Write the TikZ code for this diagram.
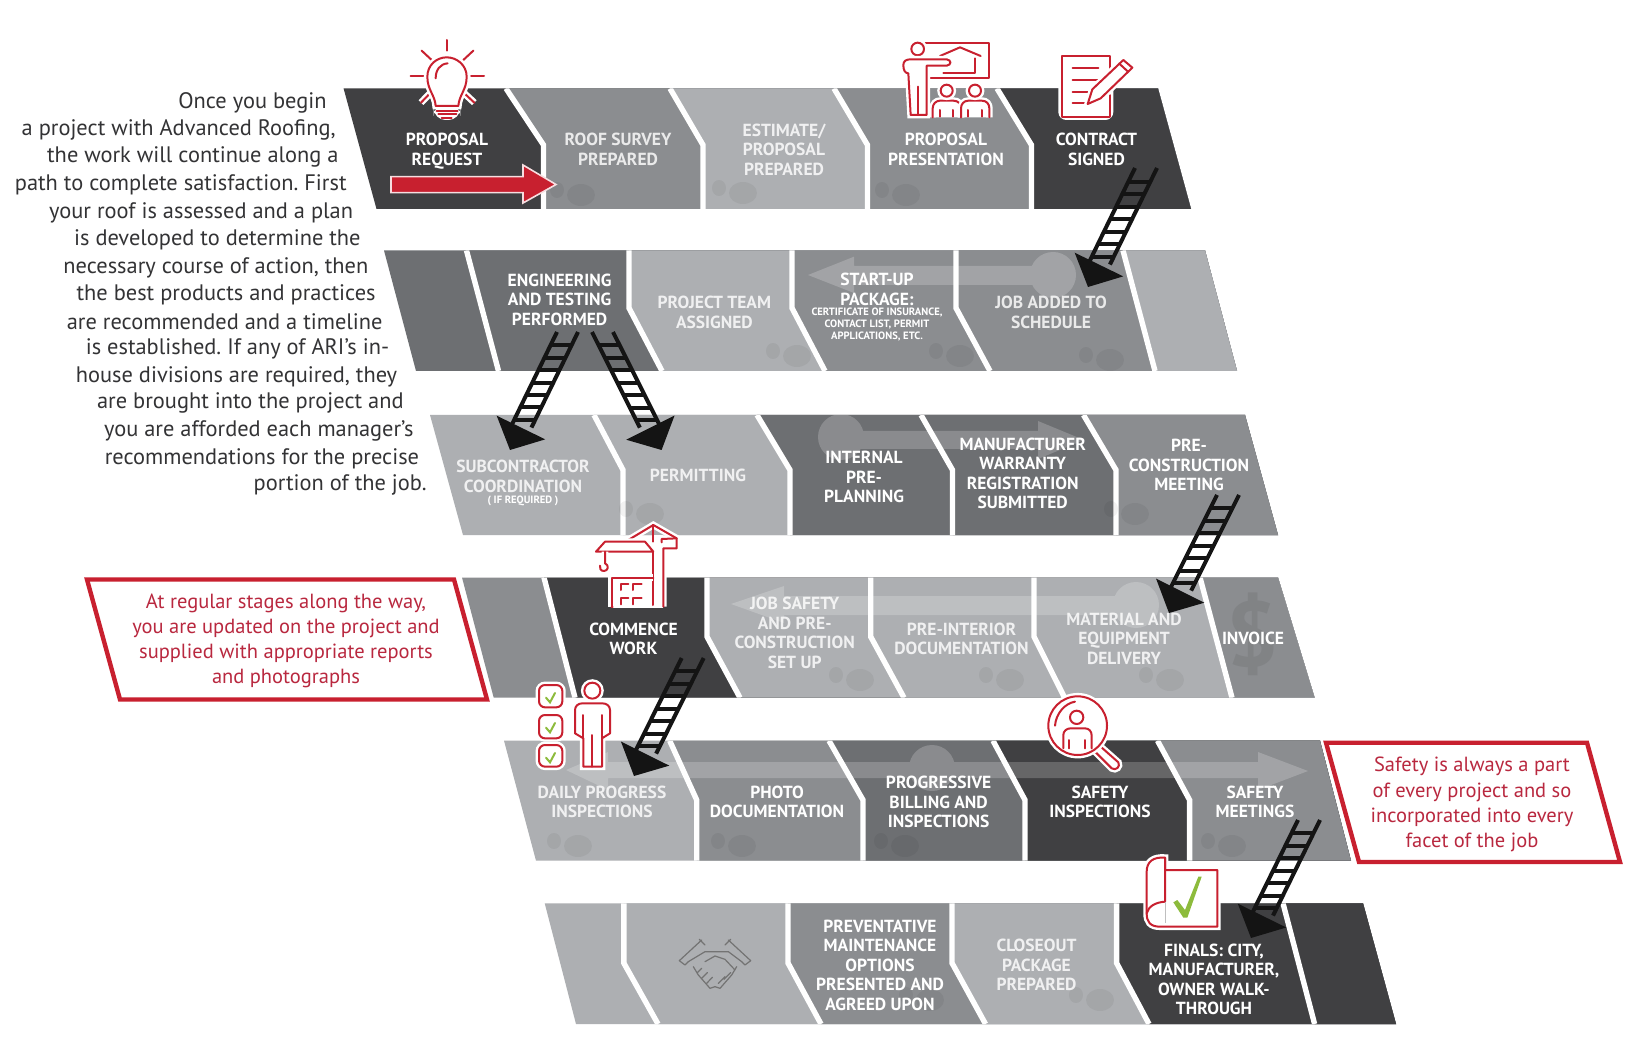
\documentclass[tikz,border=0pt]{standalone}
\usepackage{fontspec}
\setmainfont{PT Sans}
\usetikzlibrary{calc}
\definecolor{darkcell}{HTML}{404042}
\definecolor{deepcell}{HTML}{6D6F72}
\definecolor{midcell}{HTML}{8B8D90}
\definecolor{lightcell}{HTML}{ADAFB2}
\definecolor{ardred}{HTML}{C8202F}
\definecolor{callred}{HTML}{B9283F}
\definecolor{bodygrey}{HTML}{333335}
\definecolor{okgreen}{HTML}{8DBB3C}
\tikzset{
  gapline/.style={draw=white,line width=2.7pt},
  celltext/.style={text=white,font=\bfseries\fontsize{8.75}{9.75}\selectfont,align=center,inner sep=0pt},
  fadetext/.style={celltext,text opacity=.82},
  smalltext/.style={text=white,font=\bfseries\fontsize{5.3}{6}\selectfont,align=center,inner sep=0pt},
  bodyline/.style={text=bodygrey,font=\frenchspacing\fontsize{11.2}{13}\selectfont,inner sep=0pt,anchor=east,yshift=-.7pt},
  calltext/.style={text=callred,font=\fontsize{10.25}{12.6}\selectfont,align=center,inner sep=0pt},
  callbox/.style={draw=ardred,line width=2.2pt,fill=white,miter limit=10},
  ladderline/.style={draw=black!92,line width=2pt},
  fadeband/.style={transparency group,opacity=.2},
  smudge/.style={fill=black,opacity=.05},
  zoomed/.style={x=.16667pt,y=-.16667pt},
  icon/.style={draw=ardred,line width=1pt,line cap=round,line join=round,preaction={draw=white,line width=3.4pt}},
  iconin/.style={draw=ardred,line width=1pt,line cap=round,line join=round},
  tick/.style={draw=okgreen,line width=1pt,line cap=round},
  shake/.style={draw=black!55,line width=.6pt,line cap=round,line join=round}
}
% divider forms of the rows
\newcommand{\notchpath}[2]{(#1,\rtop) -- (#2,\rmid) -- (#2,\rbot)}
\newcommand{\benchpath}[2]{(#1,\rtop) -- (#1,\rmid) -- (#2,\rbot)}
\newcommand{\slantpath}[2]{(#1,\rtop) -- (#2,\rbot)}
\newcommand{\rowcell}[2]{
  \fill[#1] #2 -- (1700,1100) -- (1700,0) -- cycle;
  \draw[gapline] #2;
}
\newcommand{\blob}[2]{
  \fill[smudge] (#1,#2) ellipse (14 and 11);
  \fill[smudge] (#1-24,#2-5) ellipse (7 and 8);
}
\newcommand{\ladder}[3]{
  \coordinate (ladderbase) at ($(#2)!12.5pt!(#1)$);
  \draw[ladderline] ($(#1)+(-#3,0)$) -- ($(ladderbase)+(-#3,0)$);
  \draw[ladderline] ($(#1)+(#3,0)$) -- ($(ladderbase)+(#3,0)$);
  \foreach \t in {.14,.27,...,.95}
    \draw[ladderline] ($($(#1)!\t!(ladderbase)$)+(-#3,0)$) -- ($($(#1)!\t!(ladderbase)$)+(#3,0)$);
  \fill[black!92] (#2) -- ($(ladderbase)!13.5pt!90:(#1)$) -- ($(ladderbase)!13.5pt!-90:(#1)$) -- cycle;
}
\begin{document}
\begin{tikzpicture}[x=.5pt,y=-.5pt]
  \path[use as bounding box,fill=white] (0,0) rectangle (1635,1043);

  % row one
  \def\rtop{88.5}\def\rmid{145}\def\rbot{209}
  \begin{scope}
    \clip (343.6,88.5) -- (1158,88.5) -- (1191,209) -- (376.5,209) -- cycle;
    \fill[darkcell] (300,0) rectangle (1700,1100);
    \rowcell{midcell}{\notchpath{506}{543.5}}
    \rowcell{lightcell}{\notchpath{670}{703}}
    \rowcell{midcell}{\notchpath{834}{867.5}}
    \rowcell{darkcell}{\notchpath{997}{1031.5}}
    \blob{581}{195}
    \blob{743}{193}
    \blob{906}{195}
  \end{scope}

  % row two
  \def\rtop{250.5}\def\rmid{308}\def\rbot{371}
  \begin{scope}
    \clip (384,250.5) -- (1205,250.5) -- (1237,371) -- (416,371) -- cycle;
    \fill[deepcell] (300,0) rectangle (1700,1100);
    \rowcell{deepcell}{\slantpath{466.5}{498.5}}
    \rowcell{lightcell}{\benchpath{629}{662}}
    \rowcell{midcell}{\benchpath{792}{825}}
    \rowcell{midcell}{\benchpath{956}{990}}
    \rowcell{lightcell}{\slantpath{1123}{1155}}
    \blob{797}{356}
    \blob{960}{356}
    \blob{1110}{360}
    \begin{scope}[fadeband]
      \fill[white] (808,275) -- (854,256.7) -- (854,266) -- (1053,266) -- (1053,285) -- (854,285) -- (854,293) -- cycle;
      \fill[white] (1053,275) circle (23);
    \end{scope}
  \end{scope}

  % row three
  \def\rtop{415}\def\rmid{470}\def\rbot{535}
  \begin{scope}
    \clip (430,415) -- (1245,415) -- (1278,535) -- (463,535) -- cycle;
    \fill[lightcell] (300,0) rectangle (1700,1100);
    \rowcell{lightcell}{\notchpath{594}{623}}
    \rowcell{deepcell}{\notchpath{757}{790}}
    \rowcell{deepcell}{\notchpath{921}{952.5}}
    \rowcell{midcell}{\notchpath{1083.5}{1116}}
    \blob{650}{514}
    \blob{1135}{514}
    \begin{scope}[fadeband]
      \fill[white] (1084,440) -- (1038,421) -- (1038,431) -- (841,431) -- (841,449) -- (1038,449) -- (1038,459) -- cycle;
      \fill[white] (841,437) circle (23);
    \end{scope}
  \end{scope}

  % row four
  \def\rtop{577.5}\def\rmid{636.7}\def\rbot{697.7}
  \begin{scope}
    \clip (462,577.5) -- (1278,577.5) -- (1314.6,697.7) -- (493.7,697.7) -- cycle;
    \fill[midcell] (300,0) rectangle (1700,1100);
    \rowcell{darkcell}{\slantpath{544}{575}}
    \rowcell{lightcell}{\benchpath{707}{740}}
    \rowcell{lightcell}{\benchpath{870.7}{904}}
    \rowcell{lightcell}{\benchpath{1034}{1064.6}}
    \rowcell{midcell}{\slantpath{1200}{1232}}
    \blob{860}{680}
    \blob{1010}{680}
    \blob{1170}{680}
    \begin{scope}[fadeband]
      \fill[white] (731,604) -- (784,586) -- (784,596) -- (1136,596) -- (1136,615) -- (784,615) -- (784,623) -- cycle;
      \fill[white] (1136,605) circle (23);
    \end{scope}
    \node[text=black,opacity=.07,font=\bfseries\fontsize{46}{46}\selectfont,inner sep=0pt] (invoicesign) at (1253,634) {\$};
  \end{scope}

  % row five
  \def\rtop{740.7}\def\rmid{800}\def\rbot{860.7}
  \begin{scope}
    \clip (504,740.7) -- (1320,740.7) -- (1351,860.7) -- (536,860.7) -- cycle;
    \fill[lightcell] (300,0) rectangle (1700,1100);
    \rowcell{midcell}{\notchpath{669.7}{696.7}}
    \rowcell{deepcell}{\notchpath{829}{863}}
    \rowcell{darkcell}{\notchpath{993}{1025}}
    \rowcell{midcell}{\notchpath{1157.5}{1189.6}}
    \blob{578}{846}
    \blob{742}{846}
    \blob{905}{846}
    \blob{1232}{846}
    \begin{scope}[fadeband]
      \fill[white] (566,770) -- (608,752) -- (608,762) -- (1258,762) -- (1258,752) -- (1308,771) -- (1258,790) -- (1258,778) -- (608,778) -- (608,790) -- cycle;
      \fill[white] (932,768) circle (23);
    \end{scope}
  \end{scope}

  % row six
  \def\rtop{903.3}\def\rmid{963}\def\rbot{1024}
  \begin{scope}
    \clip (544.7,903.3) -- (1363,903.3) -- (1396,1024) -- (576,1024) -- cycle;
    \fill[lightcell] (300,0) rectangle (1700,1100);
    \rowcell{lightcell}{\benchpath{623.8}{658}}
    \rowcell{midcell}{\benchpath{788}{821}}
    \rowcell{lightcell}{\benchpath{952}{985.5}}
    \rowcell{darkcell}{\benchpath{1116.6}{1149}}
    \rowcell{darkcell}{\slantpath{1283}{1314.6}}
    \blob{930}{1000}
    \blob{1100}{1000}
  \end{scope}

  % intro text
  \draw
    (327,101.5) node[bodyline] (intro1){Once you begin}
    (336,129) node[bodyline] (intro2){a project with Advanced Roofing,}
    (339,156) node[bodyline] (intro3){the work will continue along a}
    (347,183.5) node[bodyline] (intro4){path to complete satisfaction. First}
    (353.5,211) node[bodyline] (intro5){your roof is assessed and a plan}
    (361,238.5) node[bodyline] (intro6){is developed to determine the}
    (368.7,266) node[bodyline] (intro7){necessary course of action, then}
    (376,293) node[bodyline] (intro8){the best products and practices}
    (383,320) node[bodyline] (intro9){are recommended and a timeline}
    (389.6,347.5) node[bodyline] (intro10){is established. If any of ARI’s in-}
    (397.5,375) node[bodyline] (intro11){house divisions are required, they}
    (404,402) node[bodyline] (intro12){are brought into the project and}
    (414,430) node[bodyline] (intro13){you are afforded each manager’s}
    (419.5,457) node[bodyline] (intro14){recommendations for the precise}
    (427,484) node[bodyline] (intro15){portion of the job.};

  % cell labels
  \draw
    (447,151) node[celltext] (request){PROPOSAL\\REQUEST}
    (618,149.5) node[fadetext] (survey){ROOF SURVEY\\PREPARED}
    (784,149.5) node[fadetext] (estimate){ESTIMATE/\\PROPOSAL\\PREPARED}
    (946,149.5) node[celltext] (presentation){PROPOSAL\\PRESENTATION}
    (1096.5,149.5) node[celltext] (contract){CONTRACT\\SIGNED}
    (559.6,299.5) node[celltext] (engineering){ENGINEERING\\AND TESTING\\PERFORMED}
    (714.4,312.5) node[fadetext] (team){PROJECT TEAM\\ASSIGNED}
    (877,289.5) node[celltext] (startup){START-UP\\PACKAGE:}
    (877,325) node[smalltext] (startupnote){CERTIFICATE OF INSURANCE,\\CONTACT LIST, PERMIT\\APPLICATIONS, ETC.}
    (1051,312.5) node[fadetext] (schedule){JOB ADDED TO\\SCHEDULE}
    (523,476.5) node[fadetext] (subcontractor){SUBCONTRACTOR\\COORDINATION}
    (523,501) node[smalltext] (ifrequired){( IF REQUIRED )}
    (698,475) node[fadetext] (permitting){PERMITTING}
    (864,477) node[celltext] (preplanning){INTERNAL\\PRE-\\PLANNING}
    (1022.7,473.5) node[celltext] (warranty){MANUFACTURER\\WARRANTY\\REGISTRATION\\SUBMITTED}
    (1189,465) node[celltext] (meeting){PRE-\\CONSTRUCTION\\MEETING}
    (633.5,639) node[celltext] (commence){COMMENCE\\WORK}
    (794.7,632.7) node[fadetext] (jobsafety){JOB SAFETY\\AND PRE-\\CONSTRUCTION\\SET UP}
    (961.5,639) node[fadetext] (interior){PRE-INTERIOR\\DOCUMENTATION}
    (1124,638.7) node[fadetext] (material){MATERIAL AND\\EQUIPMENT\\DELIVERY}
    (1253,638.7) node[celltext] (invoice){INVOICE}
    (602,802) node[fadetext] (daily){DAILY PROGRESS\\INSPECTIONS}
    (777,802) node[celltext] (photo){PHOTO\\DOCUMENTATION}
    (938.6,802) node[celltext] (billing){PROGRESSIVE\\BILLING AND\\INSPECTIONS}
    (1100,802) node[celltext] (inspections){SAFETY\\INSPECTIONS}
    (1255,802) node[celltext] (meetings){SAFETY\\MEETINGS}
    (880,965) node[celltext] (maintenance){PREVENTATIVE\\MAINTENANCE\\OPTIONS\\PRESENTED AND\\AGREED UPON}
    (1036.5,965) node[fadetext] (closeout){CLOSEOUT\\PACKAGE\\PREPARED}
    (1214,979.5) node[celltext] (finals){FINALS: CITY,\\MANUFACTURER,\\OWNER WALK-\\THROUGH};

  % call-outs
  \draw[callbox] (87,579.5) -- (454,579.5) -- (487,699.5) -- (120,699.5) -- cycle;
  \node[calltext] (regular) at (286,641) {At regular stages along the way,\\you are updated on the project and\\supplied with appropriate reports\\and photographs};
  \draw[callbox] (1326,742.7) -- (1587,742.7) -- (1620,862) -- (1359,862) -- cycle;
  \node[calltext] (always) at (1472,804.5) {Safety is always a part\\of every project and so\\incorporated into every\\facet of the job};

  % start arrow
  \draw[fill=ardred,draw=white!85!ardred,line width=.8pt] (391,176.7) -- (523,176.7) -- (523,165) -- (556,184.5) -- (523,203) -- (523,192.7) -- (391,192.7) -- cycle;

  % ladders
  \coordinate (contractfoot) at (1146,168);
  \coordinate (scheduletip) at (1088,287);
  \coordinate (engfootleft) at (567.5,332);
  \coordinate (subtip) at (510,450);
  \coordinate (engfootright) at (602.5,332);
  \coordinate (permittip) at (661.6,450);
  \coordinate (meetingfoot) at (1228,495);
  \coordinate (materialtip) at (1169,613);
  \coordinate (commencefoot) at (692.7,658);
  \coordinate (dailytip) at (634,776);
  \coordinate (meetingsfoot) at (1309,820);
  \coordinate (finalstip) at (1251,938);
  \ladder{contractfoot}{scheduletip}{11}
  \ladder{engfootleft}{subtip}{10.5}
  \ladder{engfootright}{permittip}{10.5}
  \ladder{meetingfoot}{materialtip}{11}
  \ladder{commencefoot}{dailytip}{11}
  \ladder{meetingsfoot}{finalstip}{11}

  % bulb
  \begin{scope}[shift={(395,30)},zoomed]
    \draw[icon] (155,30) -- (155,62);
    \draw[icon] (80,62) -- (110,90);
    \draw[icon] (235,62) -- (205,90);
    \draw[icon] (47,137) -- (85,137);
    \draw[icon] (228,137) -- (267,137);
    \draw[icon] (78,218) -- (105,190);
    \draw[icon] (238,218) -- (208,190);
    \fill[white,rounded corners=6pt] (116,222) rectangle (196,270);
    \draw[icon,fill=white] (122,228) .. controls (120,195) and (97,180) .. (97,140) .. controls (97,105) and (125,82) .. (155,82) .. controls (185,82) and (215,105) .. (215,140) .. controls (215,180) and (192,195) .. (190,228) -- cycle;
    \draw[iconin] (122,145) .. controls (122,120) and (135,102) .. (158,100);
    \draw[iconin] (125,242) -- (188,242);
    \draw[iconin] (130,252) -- (184,252);
    \draw[iconin] (140,263) -- (170,263);
  \end{scope}

  % presenter
  \begin{scope}[shift={(890,30)},zoomed]
    \fill[white] (105,38) rectangle (298,145);
    \draw[icon] (105,38) -- (298,38) -- (298,145) -- (122,145);
    \draw[iconin] (150,78) -- (210,52) -- (272,78);
    \draw[iconin] (255,85) -- (255,128) -- (160,128);
    \draw[icon,fill=white] (83,57) circle (19);
    \draw[icon,fill=white] (40,105) .. controls (40,92) and (50,88) .. (62,88) -- (170,88) .. controls (185,90) and (185,105) .. (170,107) -- (110,107) -- (110,255) -- (62,255) -- (55,130) .. controls (45,130) and (40,120) .. (40,105) -- cycle;
    \draw[iconin] (85,170) -- (85,255);
    \draw[icon,fill=white] (128,262) -- (128,235) .. controls (128,222) and (138,212) .. (150,212) -- (190,212) .. controls (205,212) and (213,222) .. (213,235) -- (213,262);
    \draw[icon,fill=white] (213,262) -- (213,235) .. controls (213,222) and (222,212) .. (235,212) -- (275,212) .. controls (290,212) and (298,222) .. (298,235) -- (298,262);
    \draw[icon,fill=white] (170,182) circle (18);
    \draw[icon,fill=white] (255,182) circle (18);
    \draw[iconin] (150,240) -- (150,260);
    \draw[iconin] (190,240) -- (190,260);
    \draw[iconin] (235,240) -- (235,260);
    \draw[iconin] (275,240) -- (275,260);
  \end{scope}

  % contract sheet
  \begin{scope}[shift={(890,30)},zoomed]
    \fill[white,rounded corners=4pt] (505,68) rectangle (670,270);
    \draw[iconin] (660,125) -- (660,78) -- (515,78) -- (515,260) -- (660,260) -- (660,195);
    \draw[iconin] (548,113) -- (625,113);
    \draw[iconin] (548,150) -- (625,150);
    \draw[iconin] (548,186) -- (598,186);
    \draw[iconin] (548,220) -- (585,220);
    \draw[icon,fill=white] (593,222) -- (607,178) -- (700,90) -- (727,113) -- (632,205) -- cycle;
    \draw[iconin] (688,101) -- (714,125);
  \end{scope}

  % crane
  \begin{scope}[shift={(580,515)},zoomed]
    \fill[white] (95,188) rectangle (250,278);
    \fill[white] (220,60) rectangle (250,278);
    \draw[icon] (250,275) -- (250,100) -- (290,100) -- (290,70) -- (220,30) -- (140,78);
    \draw[iconin] (245,82) -- (245,72) -- (290,70);
    \draw[icon,fill=white] (48,110) -- (75,80) -- (195,80) -- (220,110) -- cycle;
    \draw[iconin] (220,30) -- (220,80);
    \draw[iconin] (220,110) -- (220,270);
    \draw[icon] (75,110) -- (75,145) .. controls (88,150) and (85,168) .. (72,168) .. controls (62,168) and (58,160) .. (60,152);
    \draw[icon] (220,188) -- (95,188) -- (95,275);
    \draw[iconin] (122,225) -- (122,208) -- (145,208);
    \draw[iconin] (160,225) -- (160,208) -- (185,208);
    \draw[iconin] (122,268) -- (122,248) -- (145,248);
    \draw[iconin] (160,268) -- (160,248) -- (185,248);
    \draw[iconin] (95,275) -- (98,275);
  \end{scope}

  % person with check list
  \begin{scope}[shift={(520,670)},zoomed]
    \foreach \boxtop/\boxbot in {45/112,135/205,225/290} {
      \draw[icon,fill=white,rounded corners=3pt] (57,\boxtop) rectangle (127,\boxbot);
      \draw[tick] (78,\boxtop+38) -- (90,\boxtop+52) -- (105,\boxtop+24);
    }
    \draw[icon,fill=white] (217,62) circle (24);
    \draw[icon,fill=white] (165,120) .. controls (165,108) and (175,100) .. (187,100) -- (247,100) .. controls (260,100) and (270,108) .. (270,120) -- (270,190) -- (246,205) -- (246,290) -- (190,290) -- (190,205) -- (165,190) -- cycle;
    \draw[iconin] (217,195) -- (217,290);
    \draw[iconin] (190,135) -- (190,205);
    \draw[iconin] (246,135) -- (246,205);
  \end{scope}

  % magnifier
  \begin{scope}[shift={(1030,685)},zoomed]
    \draw[icon,fill=white] (195,200) -- (212,185) -- (265,232) .. controls (272,245) and (258,258) .. (245,250) -- cycle;
    \draw[icon,fill=white] (143,122) circle (88);
    \draw[iconin] (75,122) .. controls (78,85) and (105,55) .. (135,50);
    \draw[iconin] (140,97) circle (20);
    \draw[iconin] (100,190) -- (100,150) .. controls (100,138) and (110,130) .. (122,130) -- (165,130) .. controls (178,130) and (185,140) .. (185,152) -- (185,190);
    \draw[iconin] (118,165) -- (118,190);
    \draw[iconin] (165,165) -- (165,190);
  \end{scope}

  % closing sheet
  \begin{scope}[shift={(1130,855)},zoomed]
    \draw[icon,fill=white] (105,45) -- (262,45) -- (262,215) -- (90,215) .. controls (60,215) and (50,200) .. (50,175) -- (50,50) .. controls (50,20) and (70,5) .. (105,8) -- cycle;
    \draw[iconin] (50,175) .. controls (55,155) and (75,142) .. (105,140) -- (105,8);
    \draw[draw=black!25,line width=.4pt] (105,140) -- (105,205);
    \fill[okgreen] (130,142) -- (142,135) -- (165,165) -- (205,65) -- (215,65) -- (172,188) -- (160,188) -- cycle;
  \end{scope}

  % handshake
  \begin{scope}[shift={(660,920)},zoomed]
    \draw[shake] (58,122) -- (125,60);
    \draw[shake] (118,58) -- (135,75);
    \draw[shake] (58,122) -- (75,135) -- (85,125);
    \draw[shake] (272,122) -- (205,60);
    \draw[shake] (212,58) -- (195,75);
    \draw[shake] (272,122) -- (255,135) -- (245,125);
    \draw[shake] (85,125) -- (135,95) -- (205,95) -- (245,125);
    \draw[shake] (100,140) -- (115,165) -- (150,205) -- (165,200);
    \draw[shake] (230,140) -- (215,165) -- (180,205) -- (165,200);
    \draw[shake] (135,125) -- (165,108) -- (195,118) -- (225,150);
    \draw[shake] (112,158) -- (125,145);
    \draw[shake] (125,175) -- (142,158);
    \draw[shake] (140,190) -- (157,172);
    \draw[shake] (175,190) -- (195,170);
    \draw[shake] (192,178) -- (212,158);
  \end{scope}
\end{tikzpicture}
\end{document}
